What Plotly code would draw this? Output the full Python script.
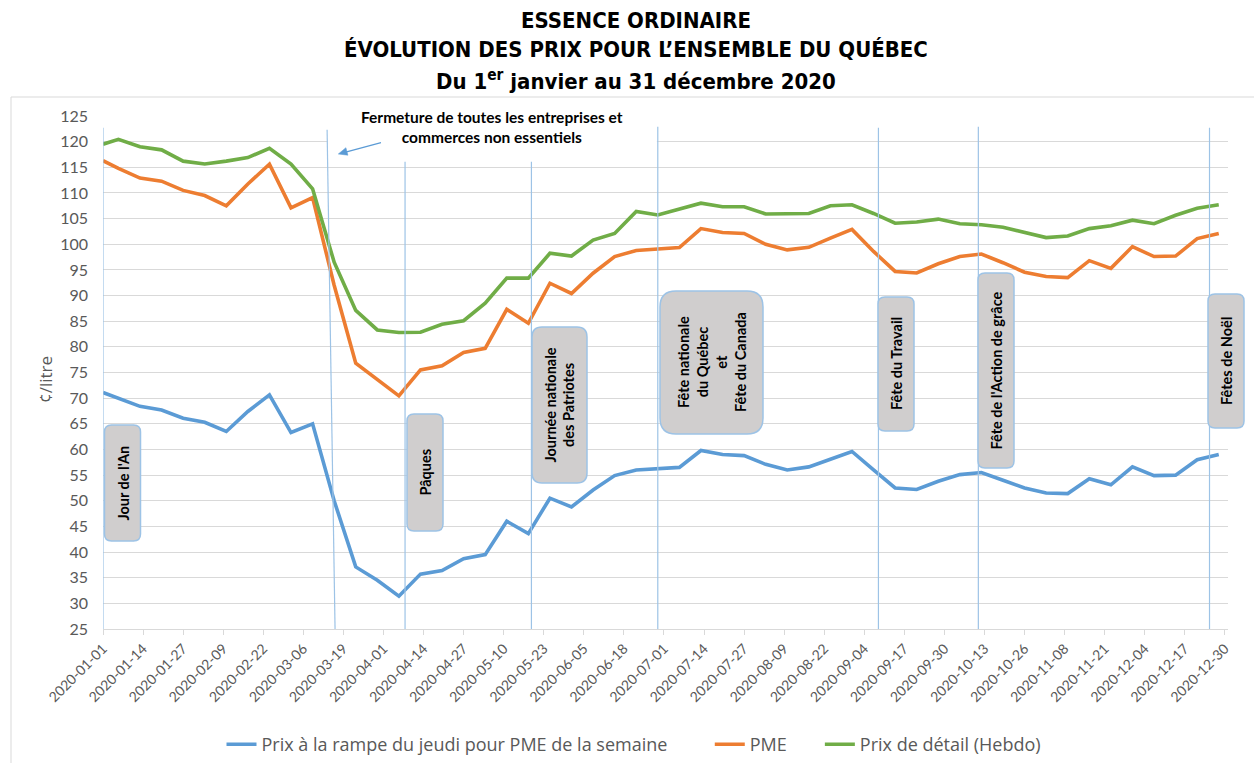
import plotly.graph_objects as go

# ---------------- data ----------------
dates = ["2020-01-01", "2020-01-06", "2020-01-13", "2020-01-20", "2020-01-27",
         "2020-02-03", "2020-02-10", "2020-02-17", "2020-02-24", "2020-03-02",
         "2020-03-09", "2020-03-16", "2020-03-23", "2020-03-30", "2020-04-06",
         "2020-04-13", "2020-04-20", "2020-04-27", "2020-05-04", "2020-05-11",
         "2020-05-18", "2020-05-25", "2020-06-01", "2020-06-08", "2020-06-15",
         "2020-06-22", "2020-06-29", "2020-07-06", "2020-07-13", "2020-07-20",
         "2020-07-27", "2020-08-03", "2020-08-10", "2020-08-17", "2020-08-24",
         "2020-08-31", "2020-09-07", "2020-09-14", "2020-09-21", "2020-09-28",
         "2020-10-05", "2020-10-12", "2020-10-19", "2020-10-26", "2020-11-02",
         "2020-11-09", "2020-11-16", "2020-11-23", "2020-11-30", "2020-12-07",
         "2020-12-14", "2020-12-21", "2020-12-28"]

rampe = [71.1, 70.0, 68.4, 67.7, 66.1, 65.3, 63.5, 67.4, 70.65, 63.3,
         65.0, 50.0, 37.1, 34.5, 31.4, 35.7, 36.4, 38.7, 39.5, 46.0,
         43.6, 50.5, 48.8, 52.1, 54.9, 56.0, 56.2, 56.5, 59.8, 59.0,
         58.8, 57.1, 56.0, 56.6, 58.1, 59.6, 56.0, 52.5, 52.2, 53.8,
         55.1, 55.5, 54.0, 52.5, 51.5, 51.4, 54.3, 53.1, 56.6, 54.9,
         55.0, 58.0, 59.0]

pme = [116.3, 114.8, 112.9, 112.3, 110.5, 109.5, 107.5, 111.75, 115.6, 107.1,
       109.1, 92.0, 76.8, 73.6, 70.45, 75.5, 76.3, 78.9, 79.7, 87.3,
       84.6, 92.4, 90.4, 94.35, 97.6, 98.8, 99.0, 99.35, 103.05, 102.3,
       102.1, 100.0, 98.9, 99.4, 101.2, 102.9, 98.6, 94.7, 94.4, 96.2,
       97.6, 98.1, 96.4, 94.55, 93.7, 93.5, 96.8, 95.3, 99.55, 97.6,
       97.7, 101.1, 102.1]

detail = [119.5, 120.45, 119.0, 118.4, 116.2, 115.65, 116.2, 116.9, 118.7, 115.65,
          110.8, 96.5, 87.1, 83.3, 82.8, 82.85, 84.4, 85.1, 88.5, 93.4,
          93.4, 98.25, 97.7, 100.8, 102.1, 106.4, 105.7, 106.8, 108.0, 107.3,
          107.3, 105.9, 106.0, 106.0, 107.5, 107.7, 106.0, 104.1, 104.35, 104.9,
          104.0, 103.8, 103.3, 102.3, 101.3, 101.6, 103.05, 103.6, 104.7, 104.0,
          105.65, 107.0, 107.7]

series_names = ["Prix à la rampe du jeudi pour PME de la semaine", "PME",
                "Prix de détail (Hebdo)"]
series_values = [rampe, pme, detail]

holiday_labels = ["Jour de l'An", "Pâques", "Journée nationale<br>des Patriotes",
                  "Fête nationale<br>du Québec<br>et<br>Fête du Canada",
                  "Fête du Travail", "Fête de l'Action de grâce", "Fêtes de Noël"]
holiday_dates = ["2020-01-01", "2020-04-08", "2020-05-19", "2020-06-29",
                 "2020-09-08 14:00", "2020-10-11", "2020-12-25"]

closure_label = "Fermeture de toutes les entreprises et<br>commerces non essentiels"

title_lines = ["ESSENCE ORDINAIRE",
               "ÉVOLUTION DES PRIX POUR L’ENSEMBLE DU QUÉBEC",
               "Du 1<sup>er</sup> janvier au 31 décembre 2020"]

# ---------------- styles / layout geometry ----------------
colors = ["#5b9bd5", "#ed7d31", "#70ad47"]
legend_pad = [8, 6, 0]          # trailing spaces per legend entry (spacing only)
W, H = 1254, 763
ML, MR, MT, MB = 103, 26, 116, 134
PW, PH = W - ML - MR, H - MT - MB
GRAY = "#595959"
VLINE = "#9dc3e6"
FONT = "Lato, 'Open Sans', sans-serif"
FONT2 = "'Open Sans', Lato, sans-serif"


def px_x(px):
    return (px - ML) / PW


def px_y(py):
    return (H - MB - py) / PH


fig = go.Figure()
for name, vals, col, pad in zip(series_names, series_values, colors, legend_pad):
    fig.add_trace(go.Scatter(x=dates, y=vals, mode="lines",
                             name=name + "\u00a0" * pad,
                             line=dict(color=col, width=3.6)))

shapes = []
# chart frame
shapes.append(dict(type="rect", xref="paper", yref="paper",
                   x0=px_x(11), x1=px_x(1260), y0=px_y(770), y1=px_y(97),
                   line=dict(color="#d9d9d9", width=1), fillcolor="rgba(0,0,0,0)",
                   layer="below"))

# holiday vertical lines (tops in value units)
line_tops = [122.7, 116.1, 116.1, 122.9, 122.7, 122.9, 122.7]
for d, top in zip(holiday_dates, line_tops):
    shapes.append(dict(type="line", xref="x", yref="y", x0=d, x1=d, y0=25, y1=top,
                       line=dict(color=VLINE, width=1.2), layer="above"))

# closure (slanted) line
shapes.append(dict(type="line", xref="x", yref="y", x0="2020-03-13 17:00", y0=122.3,
                   x1="2020-03-16 07:00", y1=25,
                   line=dict(color=VLINE, width=1.2), layer="above"))

# white box behind closure text
shapes.append(dict(type="rect", xref="x", yref="y", x0="2020-03-14", x1="2020-06-28 17:00",
                   y0=116.5, y1=126, fillcolor="white", line=dict(width=0),
                   layer="between"))

# pointer arrow (line + head)
ARROW = "#5b9bd5"
shapes.append(dict(type="line", xref="paper", yref="paper",
                   x0=px_x(381), y0=px_y(142.7), x1=px_x(341), y1=px_y(153.3),
                   line=dict(color=ARROW, width=1.2), layer="above"))
shapes.append(dict(type="path", xref="paper", yref="paper",
                   xsizemode="pixel", ysizemode="pixel",
                   xanchor=px_x(338.3), yanchor=px_y(154),
                   path="M 0,0 L 9.6,-1.2 L 7.6,6.3 Z",
                   fillcolor=ARROW, line=dict(color=ARROW, width=0.5), layer="above"))


def rounded_path(w, h, r):
    x0, x1, y0, y1 = -w / 2, w / 2, -h / 2, h / 2
    return (f"M {x0 + r},{y0} L {x1 - r},{y0} Q {x1},{y0} {x1},{y0 + r} "
            f"L {x1},{y1 - r} Q {x1},{y1} {x1 - r},{y1} L {x0 + r},{y1} "
            f"Q {x0},{y1} {x0},{y1 - r} L {x0},{y0 + r} Q {x0},{y0} {x0 + r},{y0} Z")


# label boxes: centre px (x, y), width, height, radius
boxes = [(122.5, 483, 36, 116, 7), (425, 472.5, 36, 117, 7),
         (559.5, 405, 55, 156, 10), (711.5, 362.5, 103, 143, 16),
         (896, 364, 36, 134, 7), (996, 370.5, 36, 195, 7),
         (1226, 361, 36, 134, 7)]

annotations = []
for (cx, cy, w, h, r), lab in zip(boxes, holiday_labels):
    shapes.append(dict(type="path", xref="paper", yref="paper",
                       xsizemode="pixel", ysizemode="pixel",
                       xanchor=px_x(cx), yanchor=px_y(cy),
                       path=rounded_path(w, h, r), fillcolor="#d0cece",
                       line=dict(color=VLINE, width=1.5), layer="above"))
    annotations.append(dict(xref="paper", yref="paper", x=px_x(cx), y=px_y(cy),
                            text=f"<b>{lab}</b>", textangle=-90, showarrow=False,
                            font=dict(family=FONT, size=14.5, color="black"),
                            align="center", xanchor="center", yanchor="middle"))

# closure text
annotations.append(dict(xref="x", yref="y", x="2020-05-06 05:00", y=122.8,
                        text=f"<b>{closure_label}</b>", showarrow=False,
                        font=dict(family=FONT, size=15.5, color="black"),
                        align="center", xanchor="center", yanchor="middle"))

# titles
for line, py in zip(title_lines, [20, 50, 80]):
    annotations.append(dict(xref="paper", yref="paper", x=px_x(636), y=px_y(py),
                            text=f"<b>{line}</b>", showarrow=False,
                            font=dict(family="'Liberation Sans Narrow', 'Arial Narrow', 'DejaVu Sans Condensed', sans-serif",
                                      size=22, color="black"),
                            xanchor="center", yanchor="middle"))

# y-axis title
annotations.append(dict(xref="paper", yref="paper", x=px_x(45), y=px_y(380),
                        text="¢/litre", textangle=-90, showarrow=False,
                        font=dict(family=FONT2, size=17, color=GRAY),
                        xanchor="center", yanchor="middle"))

fig.update_layout(
    width=W, height=H,
    margin=dict(l=ML, r=MR, t=MT, b=MB, pad=0, autoexpand=False),
    paper_bgcolor="white", plot_bgcolor="white",
    font=dict(family=FONT, color=GRAY),
    showlegend=True,
    legend=dict(orientation="h", x=px_x(634), xanchor="center", y=px_y(726),
                yanchor="top", font=dict(size=18, color=GRAY, family=FONT2),
                itemwidth=30, bgcolor="rgba(0,0,0,0)"),
    shapes=shapes, annotations=annotations,
    xaxis=dict(type="date", range=["2020-01-01", "2020-12-31"],
               tick0="2020-01-01", dtick=13 * 86400000, tickformat="%Y-%m-%d",
               tickangle=-45, tickfont=dict(size=14, color=GRAY, family=FONT),
               showgrid=False, showline=True, linecolor="#d9d9d9", linewidth=1,
               ticks="outside", ticklen=5, tickcolor="#d9d9d9", zeroline=False),
    yaxis=dict(range=[25, 125], dtick=5, tick0=25,
               tickfont=dict(size=16, color=GRAY, family=FONT),
               showgrid=True, gridcolor="#d9d9d9", gridwidth=1,
               showline=False, zeroline=False, ticks="", ticklabelstandoff=14),
)

fig.write_html("out.html", config={"displayModeBar": False},
               post_script="document.body.style.margin='0';")
